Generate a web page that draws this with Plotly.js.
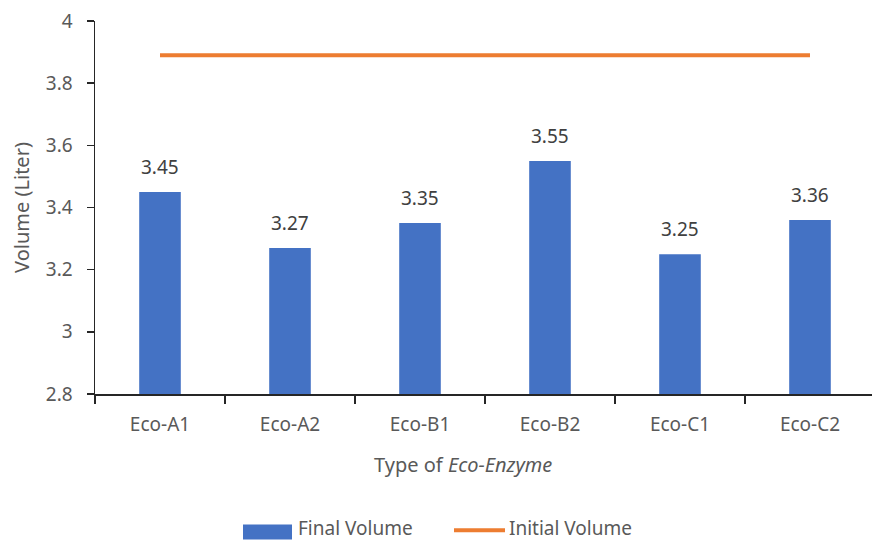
<!DOCTYPE html>
<html>
<head>
<meta charset="utf-8">
<script src="https://cdn.plot.ly/plotly-3.0.1.min.js"></script>
<style>
  html, body { margin: 0; padding: 0; background: #ffffff; }
  #chart { width: 872px; height: 542px; }
</style>
</head>
<body>
<div id="chart"></div>
<script>
// Eco-enzyme volumes per type
const categories = ["Eco-A1", "Eco-A2", "Eco-B1", "Eco-B2", "Eco-C1", "Eco-C2"];
const finalVolume = [3.45, 3.27, 3.35, 3.55, 3.25, 3.36];
const initialVolume = [3.89, 3.89, 3.89, 3.89, 3.89, 3.89];
const yTicks = [2.8, 3, 3.2, 3.4, 3.6, 3.8, 4];
const yTickText = ["2.8", "3", "3.2", "3.4", "3.6", "3.8", "4"];

const FONT = "Noto Sans, Open Sans, DejaVu Sans, sans-serif";
const GREY = "#595959";
const BLUE = "#4472C4";
const ORANGE = "#ED7D31";

const traces = [
  {
    type: "bar",
    x: categories,
    y: finalVolume,
    name: "Final Volume",
    width: 0.32,
    marker: { color: BLUE },
    hoverinfo: "x+y",
    showlegend: false
  },
  {
    type: "scatter",
    mode: "lines",
    x: categories,
    y: initialVolume,
    name: "Initial Volume",
    line: { color: ORANGE, width: 4 },
    hoverinfo: "x+y",
    showlegend: false
  }
];

// value labels above each bar
const valueLabels = categories.map((c, i) => ({
  x: c, y: finalVolume[i], xref: "x", yref: "y",
  text: finalVolume[i].toFixed(2),
  showarrow: false, yshift: 25,
  font: { family: FONT, size: 19, color: "#404040" }
}));

// legend drawn beneath the plot
const legendY = -0.36;
const legendShapes = [
  { type: "rect", xref: "paper", yref: "paper",
    x0: (243 - 95) / 777, x1: (292 - 95) / 777,
    y0: legendY - 0.03, y1: legendY + 0.01,
    fillcolor: BLUE, line: { width: 0 } },
  { type: "line", xref: "paper", yref: "paper",
    x0: (454 - 95) / 777, x1: (505 - 95) / 777,
    y0: legendY - 0.005, y1: legendY - 0.005,
    line: { color: ORANGE, width: 4 } }
];
const legendText = [
  { xref: "paper", yref: "paper", x: (296 - 95) / 777, y: legendY,
    xanchor: "left", yanchor: "middle", text: "Final Volume", showarrow: false,
    font: { family: FONT, size: 19, color: GREY } },
  { xref: "paper", yref: "paper", x: (507 - 95) / 777, y: legendY,
    xanchor: "left", yanchor: "middle", text: "Initial Volume", showarrow: false,
    font: { family: FONT, size: 19, color: GREY } }
];

const axisTitles = [
  { xref: "paper", yref: "paper", x: (463 - 95) / 777, y: -0.19,
    xanchor: "center", yanchor: "middle",
    text: "Type of <i>Eco-Enzyme</i>", showarrow: false,
    font: { family: FONT, size: 20, color: GREY } }
];

const layout = {
  width: 872,
  height: 542,
  margin: { l: 95, r: 0, t: 21, b: 148 },
  paper_bgcolor: "#ffffff",
  plot_bgcolor: "#ffffff",
  font: { family: FONT, size: 19, color: GREY },
  showlegend: false,
  xaxis: {
    type: "category",
    range: [-0.5, 5.477],
    showgrid: false,
    zeroline: false,
    showline: true,
    linecolor: "#262626",
    linewidth: 1.5,
    ticks: "outside",
    tickson: "boundaries",
    ticklen: 8,
    tickcolor: "#262626",
    tickwidth: 1.5,
    ticklabelstandoff: 13,
    tickfont: { family: FONT, size: 19, color: GREY },
    fixedrange: true
  },
  yaxis: {
    range: [2.8, 4],
    tickvals: yTicks,
    ticktext: yTickText,
    showgrid: false,
    zeroline: false,
    showline: true,
    linecolor: "#262626",
    linewidth: 1.5,
    ticks: "outside",
    ticklen: 7,
    tickcolor: "#262626",
    tickwidth: 1.5,
    ticklabelstandoff: 10,
    tickfont: { family: FONT, size: 19, color: GREY },
    title: { text: "Volume (Liter)", font: { family: FONT, size: 20, color: GREY }, standoff: 11 },
    fixedrange: true
  },
  shapes: legendShapes,
  annotations: valueLabels.concat(axisTitles, legendText)
};

Plotly.newPlot("chart", traces, layout, { displayModeBar: false, staticPlot: true });
</script>
</body>
</html>
